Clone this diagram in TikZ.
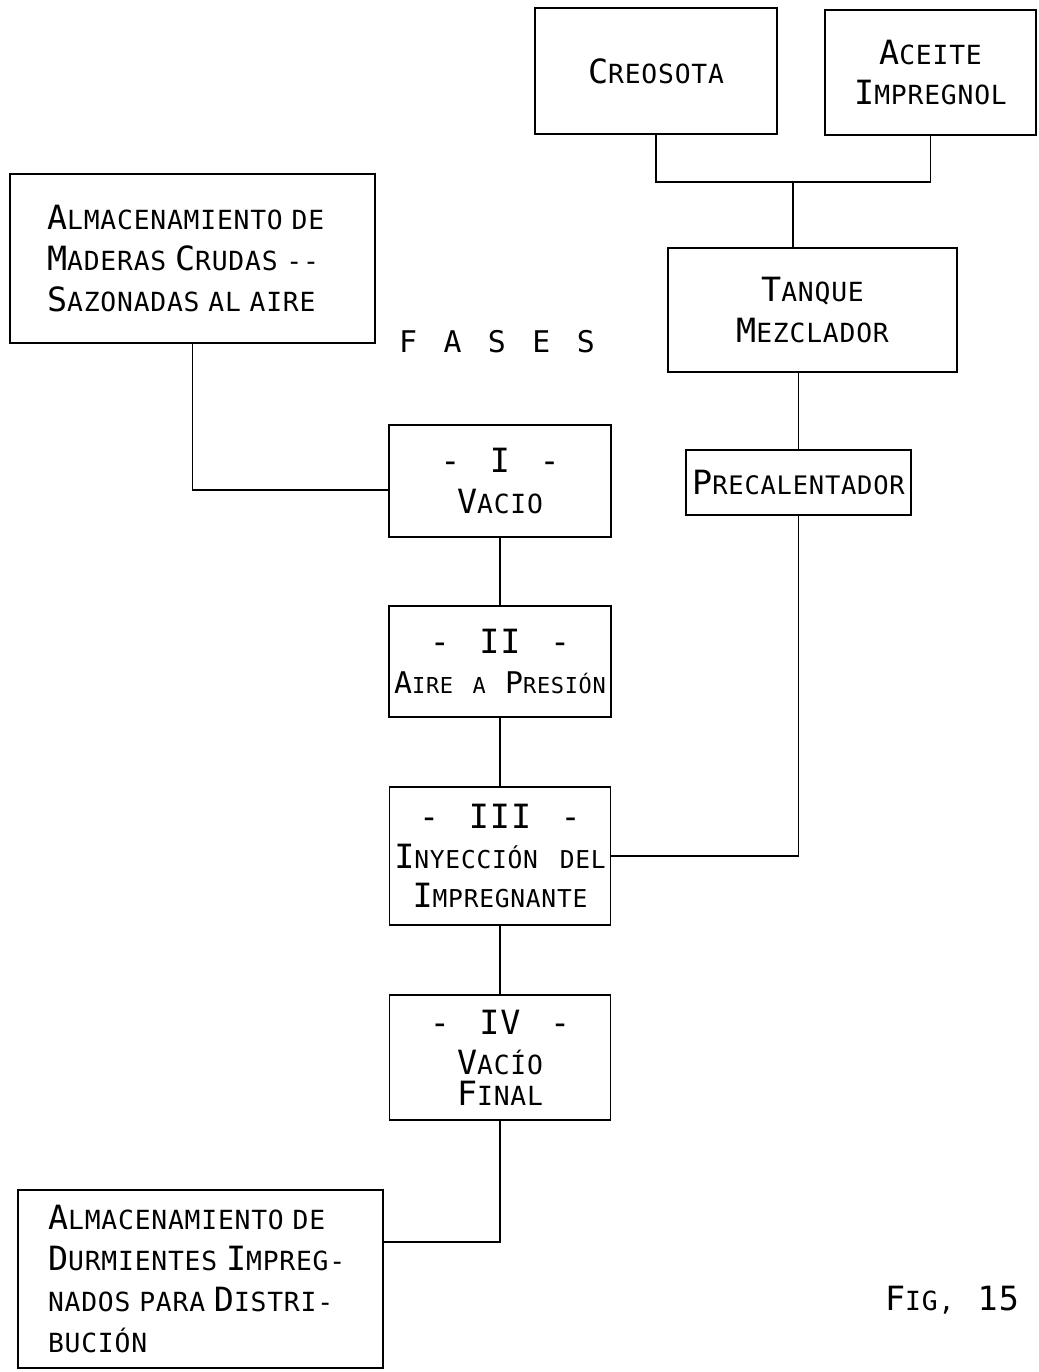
\documentclass[tikz,border=0pt]{standalone}
\usepackage{fontspec}
\setmainfont[LetterSpace=3,WordSpace=1.4]{DejaVu Sans Mono}
\newcommand{\Bg}[1]{{\fontsize{19}{23}\selectfont #1}}
\newcommand{\Bs}[1]{{\fontsize{17}{23}\selectfont #1}}
\begin{document}
\begin{tikzpicture}[x=0.02cm,y=-0.02cm,
  box/.style={draw, line width=0.7pt, rectangle, inner sep=0pt, align=center,
    font=\fontsize{15}{23.3}\selectfont},
  conn/.style={line width=0.7pt},
  lbl/.style={inner sep=0pt, font=\fontsize{15}{23.3}\selectfont}]
\useasboundingbox[fill=white] (0,0) rectangle (1038,1372);

\node[box, minimum width=4.84cm, minimum height=2.52cm] (cre) at (656,71) {\Bg{C}REOSOTA};
\node[box, minimum width=4.22cm, minimum height=2.5cm] (ace) at (930.5,72.5) {\Bg{A}CEITE\\\Bg{I}MPREGNOL};
\node[box, minimum width=7.3cm, minimum height=3.38cm, align=left, text width=5.82cm, inner xsep=0.74cm] (mad) at (192.5,258.5)
  {\Bg{A}LMACENAMIENTO DE\\\Bg{M}ADERAS \Bg{C}RUDAS -{}-\\\Bg{S}AZONADAS AL AIRE};
\node[box, minimum width=5.78cm, minimum height=2.48cm] (tan) at (812.5,310) {\Bg{T}ANQUE\\\Bg{M}EZCLADOR};
\node[box, minimum width=4.5cm, minimum height=1.3cm, font=\fontsize{14.5}{23.3}\selectfont] (pre) at (798.5,482.5) {\Bg{P}RECALENTADOR};
\node[lbl, font=\fontsize{17}{23}\selectfont] (fas) at (497,342) {F A S E S};

\node[box, minimum width=4.44cm, minimum height=2.24cm] (v1) at (500,481) {\Bg{- I -}\\\Bg{V}ACIO};
\node[box, minimum width=4.44cm, minimum height=2.22cm, font=\fontsize{12.5}{23.3}\selectfont] (v2) at (500,661.5) {\Bg{- II -}\\\Bs{A}IRE A \Bs{P}RESIÓN};
\node[box, minimum width=4.42cm, minimum height=2.76cm, font=\fontsize{14}{22.5}\selectfont] (v3) at (500,856) {\Bg{- III -}\\\Bg{I}NYECCIÓN DEL\\\Bg{I}MPREGNANTE};
\node[box, minimum width=4.42cm, minimum height=2.5cm] (v4) at (500,1057.5) {\Bg{- IV -}\\\Bg{V}ACÍO\\[-6pt]\Bg{F}INAL};
\node[box, minimum width=7.3cm, minimum height=3.56cm, align=left, text width=6.1cm, inner xsep=0.6cm] (sto) at (200.5,1279)
  {\Bg{A}LMACENAMIENTO DE\\\Bg{D}URMIENTES \Bg{I}MPREG-\\NADOS PARA \Bg{D}ISTRI-\\BUCIÓN};
\node[lbl] (fig) at (952,1300) {\Bg{F}IG, \Bg{15}};

\coordinate (j) at (793,182);
\draw[conn] (cre.south) |- (j) -| (ace.south);
\draw[conn] (j) -- (tan.north -| j);
\draw[conn] (tan.south -| pre.north) -- (pre.north);
\draw[conn] (pre.south) |- (v3.east);
\draw[conn] (mad.south) |- ([yshift=-0.18cm]v1.west);
\draw[conn] (v1.south) -- (v2.north);
\draw[conn] (v2.south) -- (v3.north);
\draw[conn] (v3.south) -- (v4.north);
\draw[conn] (v4.south) |- ([yshift=0.74cm]sto.east);
\end{tikzpicture}
\end{document}
